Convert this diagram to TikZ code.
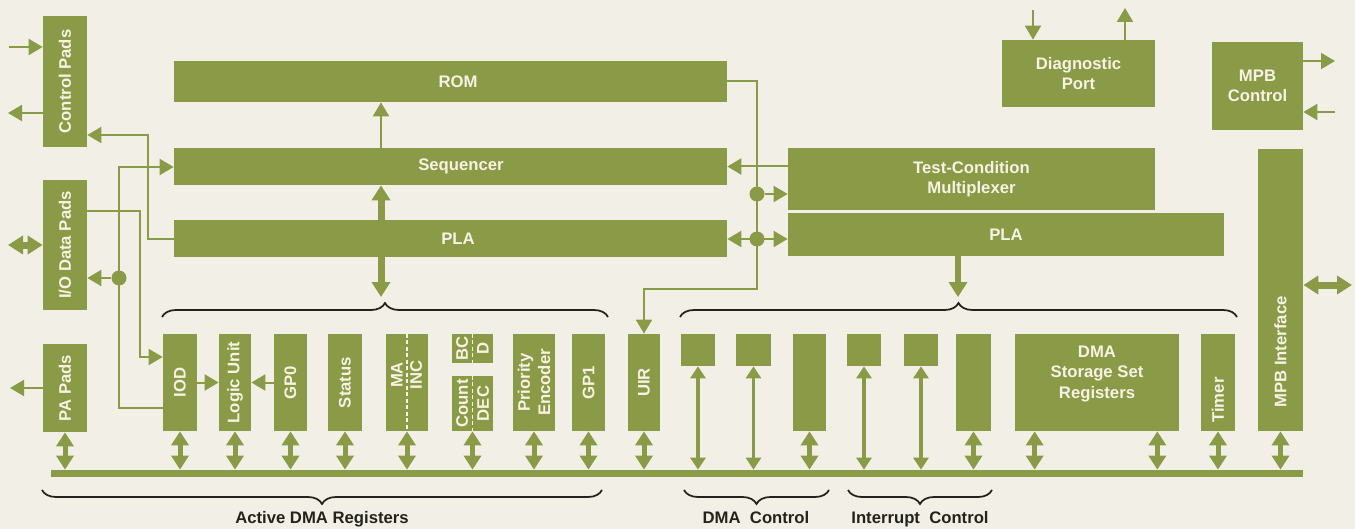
\documentclass[tikz,border=0pt]{standalone}
\usepackage{fontspec}
\setmainfont{Liberation Sans}
\usetikzlibrary{arrows.meta,calc,decorations.pathreplacing}
\definecolor{olive}{RGB}{138,154,70}
\definecolor{paper}{RGB}{242,240,230}
\definecolor{cream}{RGB}{246,243,228}
\definecolor{ink}{RGB}{35,35,30}
\newcommand{\lblfont}{\fontsize{9.5}{11.5}\selectfont\bfseries}
\pgfdeclarelayer{back}
\pgfsetlayers{back,main}

\begin{document}
\begin{tikzpicture}[x=0.2mm, y=-0.2mm,
		>={Triangle[width=3.2mm,length=2.8mm]},
		blk/.style 2 args={fill=olive, inner sep=0pt, minimum width=#1*0.2mm, minimum height=#2*0.2mm, text=cream, font=\lblfont, align=center},
		lbl/.style={text=cream, font=\lblfont, align=center, inner sep=0pt},
		wire/.style={draw=olive, line width=0.4mm},
		dot/.style={circle, fill=olive, inner sep=0pt, minimum size=3mm},
		busarr/.style={draw=olive, line width=1mm, {Triangle[width=3.4mm,length=2.8mm]}-{Triangle[width=3.4mm,length=2.8mm]}},
		longarr/.style={draw=olive, line width=0.7mm, {Triangle[width=3mm,length=2.4mm]}-{Triangle[width=3mm,length=2.4mm]}},
		fatarr/.style={draw=olive, line width=1.4mm, {Triangle[width=3.6mm,length=3mm]}-{Triangle[width=3.6mm,length=3mm]}},
		downarr/.style={draw=olive, line width=1.2mm, -{Triangle[width=3.6mm,length=3mm]}},
		divider/.style={draw=cream, line width=0.3mm, dash pattern=on 0.8mm off 0.5mm},
		brc/.style={decorate, decoration={brace, amplitude=2.8mm}, draw=ink, line width=0.35mm},
		grplbl/.style={text=ink, font=\lblfont, inner sep=0pt, anchor=base}]
		\useasboundingbox (0,0) rectangle (1355,529);

		% pads
		\node[blk={44}{131}] (ctrlpads) at (65,81.5) {};
		\node[lbl, rotate=90] (ctrlpadst) at (ctrlpads) {Control Pads};
		\node[blk={44}{130}] (iopads) at (65,245) {};
		\node[lbl, rotate=90] (iopadst) at (iopads) {I/O Data Pads};
		\node[blk={44}{88}] (papads) at (65,388) {};
		\node[lbl, rotate=90] (papadst) at (papads) {PA Pads};

		% control section
		\node[blk={553}{41}] (rom) at (450.5,81.5) {};
		\node[lbl] (romt) at (458,81.5) {ROM};
		\node[blk={553}{37}] (seq) at (450.5,166.5) {};
		\node[lbl] (seqt) at (461,166.5) {Sequencer};
		\node[blk={553}{37}] (pla) at (450.5,238.5) {};
		\node[lbl] (plat) at (458,238.5) {PLA};
		\node[blk={367}{62}] (tcm) at (971.5,179) {Test-Condition\\Multiplexer};
		\node[blk={436}{43}] (plab) at (1006,234.5) {PLA};
		\node[blk={153}{67}] (diag) at (1078.5,73.5) {Diagnostic\\Port};
		\node[blk={91}{88}] (mpbc) at (1257.5,86) {MPB\\Control};
		\node[blk={45}{282}] (mpbi) at (1280.5,290) {};
		\node[lbl, rotate=90] (mpbit) at (1280.5,352) {MPB Interface};

		% registers
		\node[blk={34}{97}] (iod) at (180,382.5) {};
		\node[lbl, rotate=90] (iodt) at (iod) {IOD};
		\node[blk={32}{97}] (logic) at (235,382.5) {};
		\node[lbl, rotate=90] (logict) at (logic) {Logic Unit};
		\node[blk={33}{97}] (gp0) at (290.5,382.5) {};
		\node[lbl, rotate=90] (gp0t) at (gp0) {GP0};
		\node[blk={34}{97}] (status) at (345,382.5) {};
		\node[lbl, rotate=90] (statust) at (status) {Status};
		\node[blk={42}{97}] (ma) at (407,382.5) {};
		\node[lbl, rotate=90] (mat) at (397,375) {MA};
		\node[lbl, rotate=90] (inct) at (416,375) {INC};
		\node[blk={41}{29}] (bc) at (472.5,348.5) {};
		\node[lbl, rotate=90] (bct) at (462,348.5) {BC};
		\node[lbl, rotate=90] (dt) at (483,348.5) {D};
		\node[blk={41}{55}] (count) at (472.5,403.5) {};
		\node[lbl, rotate=90] (countt) at (462,403.5) {Count};
		\node[lbl, rotate=90] (dect) at (483,403.5) {DEC};
		\node[blk={42}{97}] (prio) at (534,382.5) {};
		\node[lbl, rotate=90] (priot) at (prio) {Priority\\Encoder};
		\node[blk={33}{97}] (gp1) at (588.5,382.5) {};
		\node[lbl, rotate=90] (gp1t) at (gp1) {GP1};
		\node[blk={32}{97}] (uir) at (644,382.5) {};
		\node[lbl, rotate=90] (uirt) at (uir) {UIR};
		\node[blk={34}{32}] (dmaa) at (698,350) {};
		\node[blk={35}{32}] (dmab) at (753.5,350) {};
		\node[blk={33}{97}] (dmac) at (809.5,382.5) {};
		\node[blk={34}{32}] (inta) at (864,350) {};
		\node[blk={34}{32}] (intb) at (921,350) {};
		\node[blk={35}{97}] (intc) at (973.5,382.5) {};
		\node[blk={164}{97}] (store) at (1097,382.5) {};
		\node[lbl] (storet) at (1097,374) {DMA\\Storage Set\\Registers};
		\node[blk={34}{97}] (timer) at (1218,382.5) {};
		\node[lbl, rotate=90] (timert) at (1218,400) {Timer};
		\node[blk={1252}{7}] (bus) at (677,473.5) {};

		\draw[divider] (ma.north) -- (ma.south);
		\draw[divider] (bc.north) -- (bc.south);
		\draw[divider] (count.north) -- (count.south);

		\begin{pgfonlayer}{back}
		\fill[paper] (0,0) rectangle (1355,529);
		\draw[fatarr] (seq.south -| 381,0) -- (381,297);
		\end{pgfonlayer}

		% pad wires
		\coordinate (cpin) at (9,47);
		\coordinate (cpout) at (8,113);
		\coordinate (ioext) at (8,245);
		\coordinate (paout) at (10,388);
		\draw[wire,->] (cpin) -- (cpin -| ctrlpads.west);
		\draw[wire,->] (cpout -| ctrlpads.west) -- (cpout);
		\draw[fatarr] (ioext) -- (iopads.west);
		\draw[wire,->] (papads.west) -- (paout);
		\coordinate (cpbend) at (148,135);
		\draw[wire,->] (pla.west) -| (cpbend) -- (cpbend -| ctrlpads.east);
		\coordinate (seqbend) at (119,167);
		\draw[wire,->] (iod.west |- 0,408) -| (seqbend) -- (seqbend -| seq.west);
		\node[dot] (jio) at (119,278) {};
		\draw[wire,->] (jio) -- (jio -| iopads.east);
		\coordinate (iobend) at (140,357);
		\draw[wire,->] (iopads.east |- 0,211) -| (iobend) -- (iobend -| iod.west);
		\draw[wire,->] (iod) -- (logic);
		\draw[wire,->] (gp0) -- (logic);

		% sequencer wires
		\draw[wire,->] (seq.north -| 381,0) -- (rom.south -| 381,0);
		\draw[downarr] (plab.south -| 958,0) -- (958,297);
		\draw[wire,->] (rom.east) -| (757,289) -| (uir.north);
		\node[dot] (jtcm) at (757,194) {};
		\node[dot] (jpla) at (757,239) {};
		\draw[wire,->] (jtcm) -- (jtcm -| tcm.west);
		\draw[wire,<->] (jpla -| pla.east) -- (jpla -| plab.west);
		\draw[wire,->] (seq.east -| tcm.west) -- (seq.east);

		% ports
		\coordinate (dgin) at (1033,10);
		\coordinate (dgout) at (1125,8);
		\draw[wire,->] (dgin) -- (dgin |- diag.north);
		\draw[wire,->] (dgout |- diag.north) -- (dgout);
		\coordinate (mcout) at (1335,61);
		\coordinate (mcin) at (1335,112);
		\coordinate (mpext) at (1352,285);
		\draw[wire,->] (mcout -| mpbc.east) -- (mcout);
		\draw[wire,->] (mcin) -- (mcin -| mpbc.east);
		\draw[fatarr] (mpext -| mpbi.east) -- (mpext);

		% bus
		\coordinate (sta) at ($(store.south west)+(20,0)$);
		\coordinate (stb) at ($(store.south east)+(-22,0)$);
		\draw[busarr] (papads.south) -- (papads.south |- bus.north);
		\draw[busarr] (iod.south) -- (iod.south |- bus.north);
		\draw[busarr] (logic.south) -- (logic.south |- bus.north);
		\draw[busarr] (gp0.south) -- (gp0.south |- bus.north);
		\draw[busarr] (status.south) -- (status.south |- bus.north);
		\draw[busarr] (ma.south) -- (ma.south |- bus.north);
		\draw[busarr] (count.south) -- (count.south |- bus.north);
		\draw[busarr] (prio.south) -- (prio.south |- bus.north);
		\draw[busarr] (gp1.south) -- (gp1.south |- bus.north);
		\draw[busarr] (uir.south) -- (uir.south |- bus.north);
		\draw[longarr] (dmaa.south) -- (dmaa.south |- bus.north);
		\draw[longarr] (dmab.south) -- (dmab.south |- bus.north);
		\draw[busarr] (dmac.south) -- (dmac.south |- bus.north);
		\draw[longarr] (inta.south) -- (inta.south |- bus.north);
		\draw[longarr] (intb.south) -- (intb.south |- bus.north);
		\draw[busarr] (intc.south) -- (intc.south |- bus.north);
		\draw[busarr] (sta) -- (sta |- bus.north);
		\draw[busarr] (stb) -- (stb |- bus.north);
		\draw[busarr] (timer.south) -- (timer.south |- bus.north);
		\draw[busarr] (mpbi.south) -- (mpbi.south |- bus.north);

		% braces
		\draw[brc] (162,317) -- (608,317);
		\draw[brc] (680,317) -- (1237,317);
		\draw[brc] (602,490) -- (42,490);
		\draw[brc] (829,490) -- (684,490);
		\draw[brc] (992,490) -- (848,490);
		\node[grplbl] (actdma) at (322,523) {Active DMA Registers};
		\node[grplbl] (dmactl) at (756,523) {DMA\ \ Control};
		\node[grplbl] (intctl) at (920,523) {Interrupt\ \ Control};
\end{tikzpicture}
\end{document}
